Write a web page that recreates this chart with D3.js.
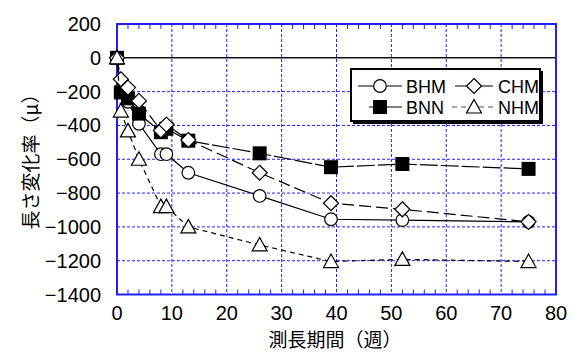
<!DOCTYPE html>
<html>
<head>
<meta charset="utf-8">
<script src="https://cdn.jsdelivr.net/npm/d3@7"></script>
<style>
  body { margin: 0; background: #fff; }
  text { font-family: "Liberation Sans Narrow", "Arial Narrow", "Liberation Sans", sans-serif; }
  .jp { font-family: "Noto Sans CJK JP", sans-serif; }
</style>
</head>
<body>
<svg id="chart" width="575" height="352"></svg>
<script>
// weeks of measurement
var weeks = [0, 0.7, 2, 4, 8, 9, 13, 26, 39, 52, 75];

var bhm = [0, -190, -260, -390, -570, -570, -680, -817, -955, -960, -970];
var chm = [0, -127, -176, -255, -430, -395, -486, -680, -860, -896, -970];
var bnn = [0, -205, -240, -330, -440, -420, -490, -565, -647, -628, -657];
var nhm = [0, -315, -432, -600, -880, -880, -1000, -1107, -1205, -1192, -1205];

var xTicks = [0, 10, 20, 30, 40, 50, 60, 70, 80];
var yTicks = [200, 0, -200, -400, -600, -800, -1000, -1200, -1400];

var series = [
  { name: 'BHM', values: bhm, marker: 'circle', dash: null },
  { name: 'BNN', values: bnn, marker: 'square', dash: '18,3' },
  { name: 'CHM', values: chm, marker: 'diamond', dash: '12,5' },
  { name: 'NHM', values: nhm, marker: 'triangle', dash: '5,4' }
];

var svg = d3.select('#chart');
var blue = '#1f1fff';

var x = d3.scaleLinear().domain([0, 80]).range([117, 556]);
var y = d3.scaleLinear().domain([-1400, 200]).range([294.5, 24]);

// gridlines
svg.append('g').selectAll('line.vg')
  .data(xTicks.slice(1, -1)).enter().append('line')
  .attr('x1', d => x(d)).attr('x2', d => x(d))
  .attr('y1', y(200)).attr('y2', y(-1400))
  .attr('stroke', blue).attr('stroke-width', 1).attr('stroke-dasharray', '3,2');

svg.append('g').selectAll('line.hg')
  .data(yTicks.filter(d => d != 0 && d != 200 && d != -1400)).enter().append('line')
  .attr('x1', x(0)).attr('x2', x(80))
  .attr('y1', d => y(d)).attr('y2', d => y(d))
  .attr('stroke', blue).attr('stroke-width', 1).attr('stroke-dasharray', '3,2');

// minor ticks top and bottom
var minor = d3.range(2, 80, 2).filter(d => d % 10 != 0);
svg.append('g').selectAll('line')
  .data(minor).enter().append('line')
  .attr('x1', d => x(d)).attr('x2', d => x(d))
  .attr('y1', y(200)).attr('y2', y(200) + 5)
  .attr('stroke', blue).attr('stroke-width', 1);
svg.append('g').selectAll('line')
  .data(minor).enter().append('line')
  .attr('x1', d => x(d)).attr('x2', d => x(d))
  .attr('y1', y(-1400)).attr('y2', y(-1400) - 5)
  .attr('stroke', blue).attr('stroke-width', 1);

// zero line
svg.append('line')
  .attr('x1', x(0)).attr('x2', x(80))
  .attr('y1', y(0)).attr('y2', y(0))
  .attr('stroke', '#111').attr('stroke-width', 1.5);

// frame
svg.append('rect')
  .attr('x', x(0)).attr('y', y(200))
  .attr('width', x(80) - x(0)).attr('height', y(-1400) - y(200))
  .attr('fill', 'none').attr('stroke', blue).attr('stroke-width', 2);

// tick labels
svg.append('g').selectAll('text')
  .data(xTicks).enter().append('text')
  .attr('x', d => x(d)).attr('y', 320)
  .attr('text-anchor', 'middle').attr('font-size', 20)
  .text(d => d);

svg.append('g').selectAll('text')
  .data(yTicks).enter().append('text')
  .attr('x', 101).attr('y', d => y(d) + 7)
  .attr('text-anchor', 'end').attr('font-size', 20)
  .text(d => d < 0 ? '\u2212' + Math.abs(d) : d);

// axis titles
svg.append('text').attr('class', 'jp')
  .attr('x', 335).attr('y', 347)
  .attr('text-anchor', 'middle').attr('font-size', 19)
  .text('測長期間（週）');

svg.append('text').attr('class', 'jp')
  .attr('transform', 'translate(38,157) rotate(-90)')
  .attr('text-anchor', 'middle').attr('font-size', 19)
  .text('長さ変化率（μ）');

function drawMarker(g, type, cx, cy) {
  if (type == 'circle') {
    g.append('circle').attr('cx', cx).attr('cy', cy).attr('r', 6.3)
      .attr('fill', '#fff').attr('stroke', '#000').attr('stroke-width', 1.2);
  } else if (type == 'square') {
    g.append('rect').attr('x', cx - 7).attr('y', cy - 7).attr('width', 14).attr('height', 14)
      .attr('fill', '#000');
  } else if (type == 'diamond') {
    g.append('path').attr('d', 'M' + cx + ',' + (cy - 7.5) + 'L' + (cx + 7.5) + ',' + cy +
        'L' + cx + ',' + (cy + 7.5) + 'L' + (cx - 7.5) + ',' + cy + 'Z')
      .attr('fill', '#fff').attr('stroke', '#000').attr('stroke-width', 1.2);
  } else {
    g.append('path').attr('d', 'M' + cx + ',' + (cy - 7.5) + 'L' + (cx + 7.5) + ',' + (cy + 6) +
        'L' + (cx - 7.5) + ',' + (cy + 6) + 'Z')
      .attr('fill', '#fff').attr('stroke', '#000').attr('stroke-width', 1.2);
  }
}

var line = d3.line().x(d => x(d[0])).y(d => y(d[1]));

series.forEach(function(s) {
  var pts = weeks.map((w, i) => [w, s.values[i]]);
  var g = svg.append('g');
  g.append('path').attr('d', line(pts))
    .attr('fill', 'none').attr('stroke', '#000').attr('stroke-width', 1.2)
    .attr('stroke-dasharray', s.dash);
  pts.forEach(p => drawMarker(g, s.marker, x(p[0]), y(p[1])));
});

// legend
var lg = svg.append('g');
lg.append('rect').attr('x', 353).attr('y', 71).attr('width', 190).attr('height', 53).attr('fill', '#000');
lg.append('rect').attr('x', 351).attr('y', 69).attr('width', 189).attr('height', 52)
  .attr('fill', '#fff').attr('stroke', '#000').attr('stroke-width', 2);

var legendItems = [
  { s: series[0], lx: 358, rx: 402, cx: 380, cy: 86, tx: 406 },
  { s: series[2], lx: 455, rx: 493, cx: 474, cy: 86, tx: 498 },
  { s: series[1], lx: 369, rx: 402, cx: 380, cy: 107, tx: 406 },
  { s: series[3], lx: 452, rx: 495, cx: 474, cy: 107, tx: 498 }
];
legendItems.forEach(function(it) {
  lg.append('line').attr('x1', it.lx).attr('x2', it.rx).attr('y1', it.cy).attr('y2', it.cy)
    .attr('stroke', it.s.name == 'NHM' ? '#555' : '#000').attr('stroke-width', 1.2)
    .attr('stroke-dasharray', it.s.name == 'NHM' ? '5,4' : null);
  drawMarker(lg, it.s.marker, it.cx, it.cy);
  lg.append('text').attr('x', it.tx).attr('y', it.cy + 6.5)
    .attr('font-size', 18).text(it.s.name);
});
</script>
</body>
</html>
